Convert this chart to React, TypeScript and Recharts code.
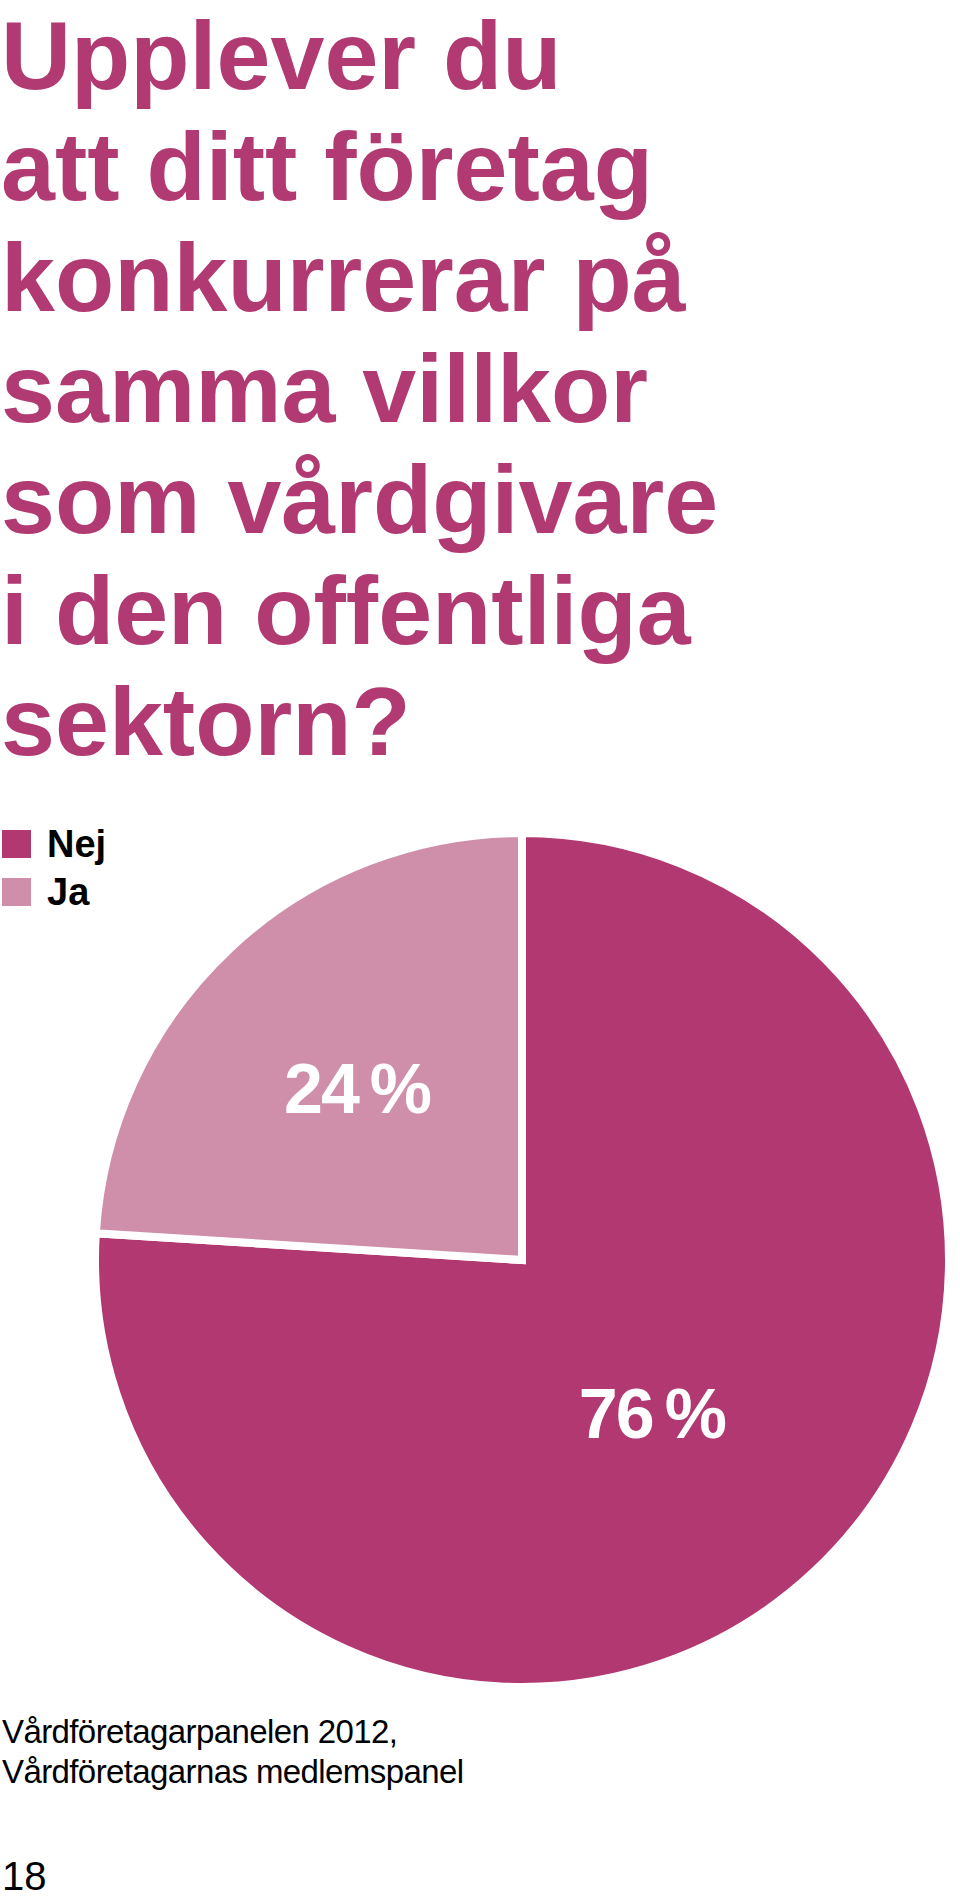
import React from "react";
import { PieChart, Pie, Cell } from "recharts";

const titleLines = [
  "Upplever du",
  "att ditt företag",
  "konkurrerar på",
  "samma villkor",
  "som vårdgivare",
  "i den offentliga",
  "sektorn?",
];
const categories = ["Nej", "Ja"];
const values = [76, 24];
const colors = ["#B13870", "#CF8FAA"];
const sourceLines = ["Vårdföretagarpanelen 2012,", "Vårdföretagarnas medlemspanel"];
const pageNumber = "18";

// where each percent label sits, as a fraction of the radius from the centre
const labelOffsets = [
  { dx: 0.307, dy: 0.421 },
  { dx: -0.39, dy: -0.348 },
];

const data = categories.map((name, i) => ({ name, value: values[i] }));

const FONT = "'Liberation Sans', Arial, Helvetica, sans-serif";

const renderLabel = (props: any) => {
  const { cx, cy, outerRadius, index, value } = props;
  const r = outerRadius - 4;
  const off = labelOffsets[index];
  return (
    <text
      x={cx + off.dx * r}
      y={cy + off.dy * r}
      textAnchor="middle"
      fill="#ffffff"
      fontFamily={FONT}
      fontWeight="bold"
      fontSize={70}
      letterSpacing={-2}
    >
      {value + "\u2009%"}
    </text>
  );
};

export default function App() {
  return (
    <div
      style={{
        position: "absolute",
        left: 0,
        top: 0,
        width: 960,
        height: 1900,
        background: "#ffffff",
        overflow: "hidden",
        fontFamily: FONT,
      }}
    >
      <div style={{ position: "absolute", left: 0, top: 0 }}>
        <PieChart width={960} height={1900} margin={{ top: 0, right: 0, bottom: 0, left: 0 }}>
          <Pie
            data={data}
            dataKey="value"
            nameKey="name"
            cx={522}
            cy={1260}
            outerRadius={427}
            startAngle={90}
            endAngle={-270}
            stroke="#ffffff"
            strokeWidth={8}
            label={renderLabel}
            labelLine={false}
            isAnimationActive={false}
          >
            {data.map((d, i) => (
              <Cell key={d.name} fill={colors[i]} />
            ))}
          </Pie>
        </PieChart>
      </div>

      <div
        style={{
          position: "absolute",
          left: 1,
          top: 0,
          fontSize: 97,
          lineHeight: "111px",
          fontWeight: "bold",
          color: "#B13A72",
          whiteSpace: "nowrap",
        }}
      >
        {titleLines.map((t) => (
          <div key={t}>{t}</div>
        ))}
      </div>

      <div style={{ position: "absolute", left: 2, top: 820 }}>
        {categories.map((c, i) => (
          <div
            key={c}
            style={{ display: "flex", alignItems: "center", height: 48 }}
          >
            <div style={{ width: 29, height: 28, background: colors[i], marginRight: 16 }} />
            <span style={{ fontSize: 38, fontWeight: "bold", color: "#000000", lineHeight: "40px" }}>
              {c}
            </span>
          </div>
        ))}
      </div>

      <div
        style={{
          position: "absolute",
          left: 2,
          top: 1712,
          fontSize: 33,
          lineHeight: "40px",
          color: "#000000",
          letterSpacing: -0.6,
          whiteSpace: "nowrap",
        }}
      >
        {sourceLines.map((t) => (
          <div key={t}>{t}</div>
        ))}
      </div>

      <div
        style={{
          position: "absolute",
          left: 2,
          top: 1856,
          fontSize: 40,
          lineHeight: "40px",
          color: "#000000",
        }}
      >
        {pageNumber}
      </div>
    </div>
  );
}
